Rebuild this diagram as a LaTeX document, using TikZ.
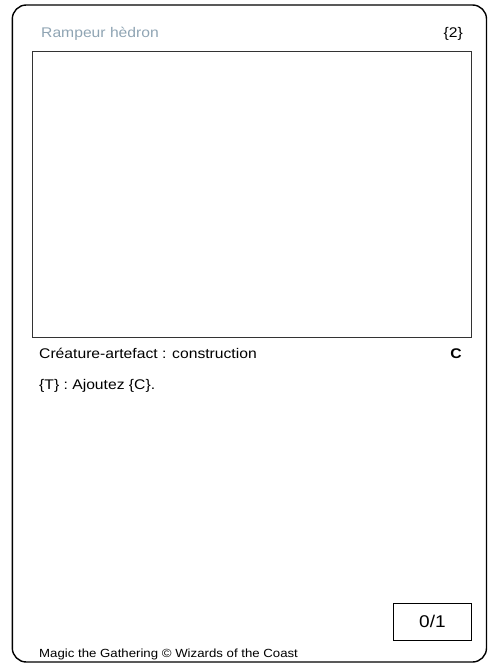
\documentclass[tikz,border=0pt]{standalone}
\usepackage{fontspec}
\setmainfont[FakeStretch=1.12]{Liberation Sans}
\definecolor{titlecol}{HTML}{8FA4B3}
\definecolor{framecol}{HTML}{333333}
\begin{document}
\begin{tikzpicture}[x=1pt,y=-1pt,
  lbl/.style={inner sep=0pt,anchor=base west,font=\fontsize{14}{16}\selectfont},
  lblr/.style={inner sep=0pt,anchor=base east,font=\fontsize{14}{16}\selectfont}]
\useasboundingbox (0,0) rectangle (496,664);
\draw[line width=1.4pt,rounded corners=14pt] (12.3,5) rectangle (486.5,662);
\node[draw=framecol,line width=1.3pt,minimum width=438.5pt,minimum height=286.5pt,anchor=north west,inner sep=0pt] (art) at (32,50.5) {};
\node[lbl,text=titlecol] (name) at (41,37.5) {Rampeur hèdron};
\node[lblr] (cost) at (463,37.5) {\{2\}};
\node[lbl] (type) at (39,358.5) {Créature-artefact : construction};
\node[lblr,font=\fontsize{14}{16}\selectfont\bfseries] (rar) at (462,358.5) {C};
\node[lbl] (txt) at (39,389.5) {\{T\} : Ajoutez \{C\}.};
\node[draw,line width=1pt,minimum width=77.5pt,minimum height=37.5pt,anchor=north west,inner sep=0pt,font=\fontsize{17}{19}\selectfont] (pt) at (393.2,602.5) {0/1};
\node[lbl,font=\fontsize{11.8}{13}\selectfont] (foot) at (39,657) {Magic the Gathering © Wizards of the Coast};
\end{tikzpicture}
\end{document}
